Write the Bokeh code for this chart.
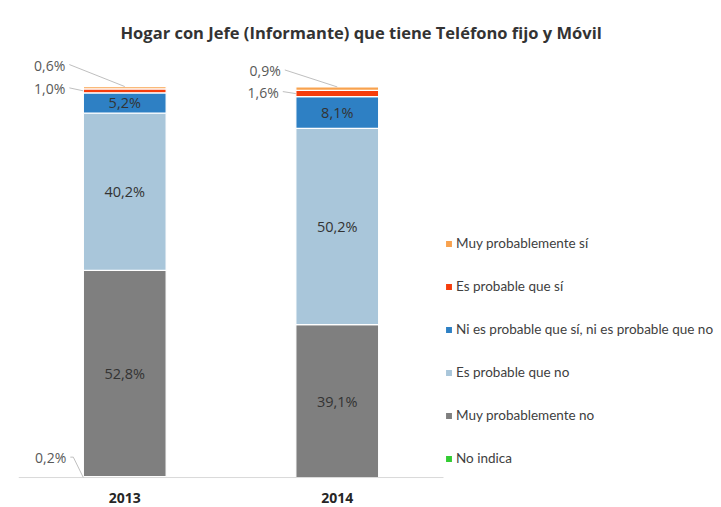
from bokeh.plotting import figure
from bokeh.models import Range1d, FixedTicker, Legend, LegendItem, ColumnDataSource, Title
from bokeh.embed import file_html
from bokeh.resources import INLINE
from bokeh.core.properties import value

# ---------------- data ----------------
title_text = "Hogar con Jefe (Informante) que tiene Teléfono fijo y Móvil"
years = ["2013", "2014"]
series = [
    "No indica",
    "Muy probablemente no",
    "Es probable que no",
    "Ni es probable que sí, ni es probable que no",
    "Es probable que sí",
    "Muy probablemente sí",
]
no_indica = [0.2, 0.0]
muy_prob_no = [52.8, 39.1]
prob_no = [40.2, 50.2]
ni_ni = [5.2, 8.1]
prob_si = [1.0, 1.6]
muy_prob_si = [0.6, 0.9]
colors = ["#33CC33", "#7F7F7F", "#A9C6DA", "#2E80C4", "#F63D0C", "#F8A24E"]

values = [no_indica, muy_prob_no, prob_no, ni_ni, prob_si, muy_prob_si]

# ---------------- layout constants ----------------
W, H = 721, 507
BL, BR, BT, BB = 18, 0, 50, 28
FW, FH = W - BL - BR, H - BT - BB
px_x = 212.5             # pixels per category unit
px_y = 3.91              # pixels per percentage point
X_END = FW / px_x
Y0 = -0.5
Y_END = Y0 + FH / px_y
BAR_W = 0.39

xs = [i + 0.5 for i in range(len(years))]
keys = ["s%d" % k for k in range(len(series))]
data = {"x": xs}
for k, v in zip(keys, values):
    data[k] = v
src = ColumnDataSource(data)

p = figure(width=W, height=H, x_range=Range1d(0, X_END), y_range=Range1d(Y0, Y_END),
           output_backend="svg", toolbar_location=None, y_axis_location=None,
           min_border_left=BL, min_border_right=BR, min_border_top=BT, min_border_bottom=BB)
p.outline_line_color = None
p.xgrid.visible = False
p.ygrid.visible = False
p.background_fill_color = "white"
p.border_fill_color = "white"

renderers = p.vbar_stack(keys, x="x", width=BAR_W, color=colors, source=src,
                         line_color="white", line_width=1.3)

# baseline across the category area
p.segment(x0=[0], y0=[0], x1=[len(years)], y1=[0], line_color="#D9D9D9", line_width=1)

# x axis
ax = p.xaxis[0]
ax.ticker = FixedTicker(ticks=xs)
ax.major_label_overrides = {x: y for x, y in zip(xs, years)}
ax.major_tick_line_color = None
ax.minor_tick_line_color = None
ax.axis_line_color = None
ax.major_label_text_font = "Open Sans"
ax.major_label_text_font_style = "bold"
ax.major_label_text_font_size = "14px"
ax.major_label_text_color = "#262626"
ax.major_label_standoff = 7

# ---------------- inside labels ----------------
def fmt(v):
    return ("%.1f%%" % v).replace(".", ",")

in_x, in_y, in_t = [], [], []
small = []  # (series idx, year idx, bottom, top)
for j in range(len(years)):
    cum = 0.0
    for i, v in enumerate(values):
        b, t = cum, cum + v[j]
        cum = t
        if v[j] >= 3:
            in_x.append(xs[j]); in_y.append((b + t) / 2); in_t.append(fmt(v[j]))
        elif v[j] > 0:
            small.append((i, j, b, t))

p.text(x=in_x, y=in_y, text=in_t, text_align="center", text_baseline="middle",
       text_font=value("Open Sans"), text_font_size="14.5px", text_color="#333333")

# ---------------- outside labels with leader lines ----------------
# per (series, year): anchor type, label dx from bar-left (px), label dy from anchor (px)
label_pos = {
    (5, 0): ("top", -18, 21),
    (4, 0): ("mid", -18, 2),
    (0, 0): ("mid", -17, 20),
    (5, 1): ("top", -15, 16),
    (4, 1): ("mid", -17, 1),
}
lx, ly, lt = [], [], []
mx, my = [], []
for (i, j, b, t) in small:
    kind, dx, dy = label_pos[(i, j)]
    left = xs[j] - BAR_W / 2
    if kind == "top":
        ax_, ay_ = xs[j], t
    else:
        ax_, ay_ = left, (b + t) / 2
    lab_x = left + dx / px_x
    lab_y = ay_ + dy / px_y
    lx.append(lab_x); ly.append(lab_y); lt.append(fmt(values[i][j]))
    sx = lab_x + 4 / px_x
    if i == 0:
        mx.append([sx, sx + 3 / px_x, left]); my.append([lab_y, lab_y, b])
    else:
        mx.append([sx, ax_]); my.append([lab_y + 1 / px_y, ay_])

p.multi_line(xs=mx, ys=my, line_color="#BFBFBF", line_width=1)
p.text(x=lx, y=ly, text=lt, text_align="right", text_baseline="middle",
       text_font=value("Open Sans"), text_font_size="14px", text_color="#595959")

# ---------------- legend ----------------
items = [LegendItem(label=s, renderers=[r]) for s, r in zip(series, renderers)][::-1]
legend = Legend(items=items, location=(426, 13), orientation="vertical",
                glyph_width=9, glyph_height=9, label_height=16, spacing=27,
                label_standoff=3, padding=0, margin=0,
                border_line_color=None, background_fill_alpha=0,
                label_text_font="Lato", label_text_font_size="13.5px",
                label_text_color="#404040")
p.add_layout(legend)

# ---------------- title ----------------
p.add_layout(Title(text=title_text, align="left", offset=102, vertical_align="top",
                   text_font="Open Sans", text_font_style="bold",
                   text_font_size="16.5px", text_color="#333333"), "above")

open("out.html", "w").write(file_html(p, INLINE))
